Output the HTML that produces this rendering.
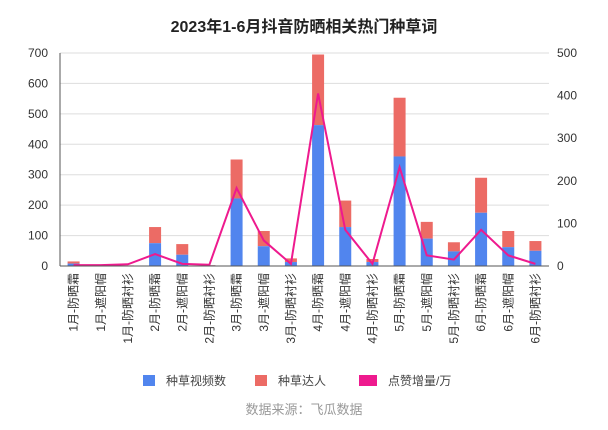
<!DOCTYPE html>
<html><head><meta charset="utf-8"><style>
body{margin:0;background:#fff;}
svg{display:block;font-family:"Liberation Sans","Noto Sans CJK SC",sans-serif;}
</style></head><body>
<svg id="c" width="608" height="430" xmlns="http://www.w3.org/2000/svg"></svg>
<script>
const s=document.getElementById('c');let h='';
h+='<text x="304" y="32" text-anchor="middle" font-size="16" font-weight="bold" fill="#222">2023年1-6月抖音防晒相关热门种草词</text>';
const x0=60,x1=549,y0=266,yt=53,ph=y0-yt;
for(let i=0;i<=7;i++){const y=y0-ph*i/7;
 if(i>0)h+=`<line x1="${x0}" x2="${x1}" y1="${y}" y2="${y}" stroke="#ddd"/>`;
 h+=`<text x="${x0-12}" y="${y+4}" text-anchor="end" font-size="12" fill="#333">${i*100}</text>`;}
for(let i=0;i<=5;i++){const y=y0-ph*i/5;
 h+=`<text x="${x1+8}" y="${y+4}" font-size="12" fill="#333">${i*100}</text>`;}
const blue=[8,2,1,75,37,2,222,65,13,463,128,13,360,90,48,175,62,50];
const tot=[15,3,2,128,72,3,350,115,25,695,215,23,553,145,78,290,115,82];
const line=[2,2,4,28,5,3,183,60,5,405,85,5,232,25,15,85,25,5];
const names=['防晒霜','遮阳帽','防晒衬衫'];
const w=(x1-x0)/18;let pts=[];
for(let i=0;i<18;i++){const cx=x0+w*(i+0.5);
 const by=y0-blue[i]*ph/700,ty=y0-tot[i]*ph/700;
 h+=`<rect x="${cx-6}" y="${ty}" width="12" height="${by-ty}" fill="#ec6b65"/>`;
 h+=`<rect x="${cx-6}" y="${by}" width="12" height="${y0-by}" fill="#5185ee"/>`;
 pts.push(cx+','+(y0-line[i]*ph/500));
 const lab=(Math.floor(i/3)+1)+'月-'+names[i%3];
 h+=`<text transform="translate(${cx+4},273) rotate(-90)" text-anchor="end" font-size="12" fill="#333">${lab}</text>`;}
h+=`<polyline points="${pts.join(' ')}" fill="none" stroke="#ee1a8e" stroke-width="2"/>`;
h+=`<line x1="${x0}" x2="${x0}" y1="${yt}" y2="${y0}" stroke="#555"/>`;
h+=`<line x1="${x0}" x2="${x1}" y1="${y0}" y2="${y0}" stroke="#555"/>`;
const lg=[[143,'#5185ee','种草视频数',12],[255,'#ec6b65','种草达人',12],[359,'#ee1a8e','点赞增量/万',18]];
lg.forEach(([x,c,t,ww])=>{h+=`<rect x="${x}" y="375" width="${ww}" height="11" fill="${c}"/><text x="${x+ww+11}" y="385" font-size="12" fill="#444">${t}</text>`;});
h+='<text x="304" y="414" text-anchor="middle" font-size="13" fill="#999">数据来源：飞瓜数据</text>';
s.innerHTML=h;
</script>
</body></html>
